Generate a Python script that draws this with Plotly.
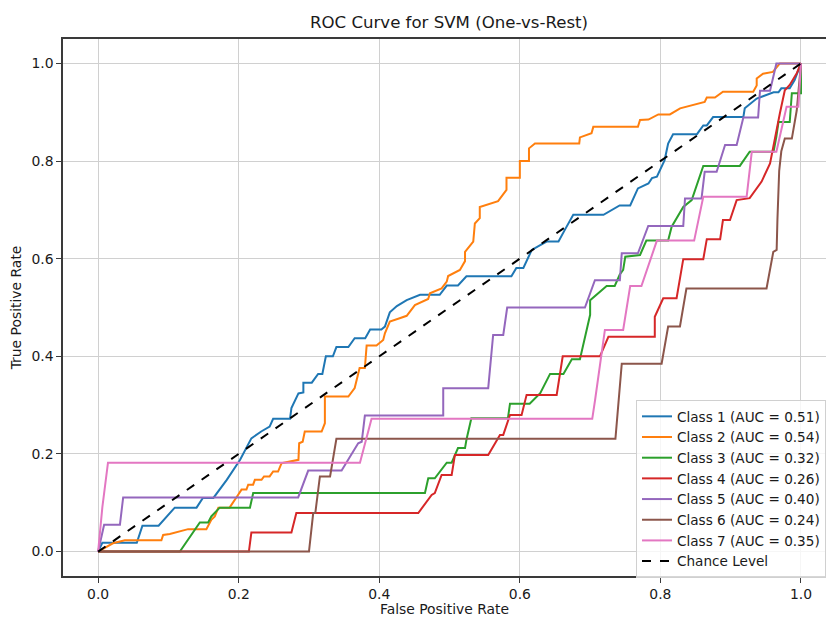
import plotly.graph_objects as go

# ROC curves of a one-vs-rest SVM, one (FPR, TPR) series per class
class_names = ["Class 1", "Class 2", "Class 3", "Class 4", "Class 5", "Class 6", "Class 7"]
auc_values = [0.51, 0.54, 0.32, 0.26, 0.40, 0.24, 0.35]
colors = ["#1f77b4", "#ff7f0e", "#2ca02c", "#d62728", "#9467bd", "#8c564b", "#e377c2"]

fpr_1 = [0, 0.006, 0.055, 0.063, 0.086, 0.109, 0.14, 0.149, 0.164, 0.183, 0.202, 0.218, 0.232, 0.244,
         0.249, 0.273, 0.275, 0.285, 0.292, 0.292, 0.304, 0.313, 0.319, 0.324, 0.334, 0.339, 0.356, 0.365,
         0.38, 0.387, 0.403, 0.408, 0.415, 0.425, 0.439, 0.458, 0.486, 0.496, 0.512, 0.524, 0.588, 0.595,
         0.605, 0.617, 0.638, 0.655, 0.664, 0.676, 0.719, 0.742, 0.757, 0.768, 0.783, 0.788, 0.795, 0.806,
         0.811, 0.818, 0.852, 0.861, 0.866, 0.875, 0.918, 0.92, 0.937, 0.961, 0.968, 0.972, 0.984, 0.991, 1.0]
tpr_1 = [0, 0.018, 0.018, 0.053, 0.053, 0.09, 0.09, 0.11, 0.11, 0.147, 0.188, 0.232, 0.246, 0.256,
         0.272, 0.272, 0.294, 0.324, 0.326, 0.346, 0.346, 0.364, 0.364, 0.4, 0.4, 0.419, 0.419, 0.437,
         0.437, 0.455, 0.455, 0.461, 0.49, 0.503, 0.515, 0.526, 0.526, 0.545, 0.545, 0.564, 0.564, 0.581,
         0.581, 0.618, 0.635, 0.635, 0.659, 0.69, 0.69, 0.709, 0.709, 0.744, 0.754, 0.765, 0.768, 0.802,
         0.836, 0.855, 0.855, 0.873, 0.873, 0.89, 0.89, 0.908, 0.928, 0.941, 0.941, 0.949, 0.949, 0.966, 1.0]

fpr_2 = [0, 0.0095, 0.021, 0.038, 0.09, 0.0925, 0.102, 0.128, 0.154, 0.161, 0.166, 0.171, 0.187, 0.199,
         0.204, 0.211, 0.2135, 0.2205, 0.223, 0.2325, 0.236, 0.244, 0.249, 0.256, 0.261, 0.285, 0.286,
         0.291, 0.294, 0.318, 0.3226, 0.3226, 0.356, 0.365, 0.37, 0.372, 0.3795, 0.382, 0.396, 0.4056,
         0.408, 0.415, 0.429, 0.439, 0.4507, 0.4696, 0.472, 0.4887, 0.496, 0.498, 0.5147, 0.522, 0.522,
         0.5337, 0.536, 0.543, 0.543, 0.569, 0.581, 0.581, 0.6, 0.6, 0.613, 0.613, 0.6215, 0.6845, 0.6855,
         0.702, 0.7045, 0.768, 0.771, 0.783, 0.797, 0.8135, 0.828, 0.863, 0.866, 0.8776, 0.889, 0.932,
         0.937, 0.937, 0.946, 0.96, 0.97, 1.0]
tpr_2 = [0, 0.007, 0.017, 0.023, 0.023, 0.034, 0.036, 0.046, 0.046, 0.065, 0.072, 0.09, 0.09, 0.116,
         0.127, 0.127, 0.137, 0.137, 0.147, 0.147, 0.154, 0.154, 0.164, 0.164, 0.181, 0.188, 0.222,
         0.225, 0.246, 0.246, 0.263, 0.3175, 0.3175, 0.335, 0.365, 0.376, 0.376, 0.422, 0.422, 0.4335,
         0.447, 0.471, 0.478, 0.483, 0.505, 0.5175, 0.529, 0.539, 0.553, 0.5645, 0.577, 0.595, 0.614,
         0.635, 0.672, 0.683, 0.706, 0.718, 0.741, 0.766, 0.766, 0.8, 0.8, 0.826, 0.836, 0.836, 0.8485,
         0.857, 0.87, 0.87, 0.884, 0.885, 0.8955, 0.8955, 0.908, 0.921, 0.93, 0.93, 0.942, 0.942,
         0.955, 0.969, 0.979, 0.9825, 1.0, 1.0]

fpr_3 = [0, 0.1163, 0.1447, 0.1565, 0.161, 0.173, 0.216, 0.2206, 0.465, 0.4697, 0.479, 0.496, 0.503,
         0.512, 0.522, 0.524, 0.531, 0.583, 0.586, 0.614, 0.629, 0.643, 0.662, 0.674, 0.6855, 0.70, 0.70,
         0.709, 0.7235, 0.735, 0.742, 0.747, 0.75, 0.771, 0.780, 0.811, 0.816, 0.8325, 0.8445, 0.861,
         0.913, 0.927, 0.961, 0.965, 0.968, 0.984, 0.987, 1.0, 1.0]
tpr_3 = [0, 0, 0.0596, 0.0596, 0.072, 0.09, 0.09, 0.12, 0.12, 0.15, 0.15, 0.182, 0.182, 0.212, 0.212,
         0.229, 0.273, 0.273, 0.303, 0.303, 0.3245, 0.364, 0.364, 0.394, 0.394, 0.485, 0.515, 0.526,
         0.544, 0.544, 0.567, 0.577, 0.604, 0.6075, 0.637, 0.637, 0.6655, 0.706, 0.72, 0.79, 0.79, 0.819,
         0.819, 0.85, 0.88, 0.88, 0.939, 0.939, 1.0]

fpr_4 = [0, 0.2145, 0.218, 0.275, 0.282, 0.4555, 0.4745, 0.479, 0.4887, 0.503, 0.5076, 0.555, 0.5717,
         0.5764, 0.586, 0.6025, 0.6096, 0.6524, 0.661, 0.714, 0.726, 0.792, 0.792, 0.804, 0.823, 0.8325,
         0.861, 0.866, 0.885, 0.889, 0.899, 0.9085, 0.927, 0.944, 0.956, 0.963, 0.97, 0.977, 0.984, 0.994, 1.0]
tpr_4 = [0, 0, 0.039, 0.039, 0.079, 0.079, 0.116, 0.12, 0.157, 0.157, 0.198, 0.198, 0.239, 0.239, 0.28,
         0.28, 0.321, 0.321, 0.4, 0.4, 0.44, 0.44, 0.481, 0.519, 0.519, 0.599, 0.599, 0.64, 0.64, 0.679,
         0.679, 0.72, 0.724, 0.758, 0.795, 0.85, 0.898, 0.945, 0.956, 0.98, 1.0]

fpr_5 = [0, 0.0085, 0.031, 0.0356, 0.2846, 0.2989, 0.3464, 0.37, 0.375, 0.3795, 0.491, 0.491, 0.555,
         0.562, 0.5764, 0.582, 0.6926, 0.7068, 0.7423, 0.745, 0.768, 0.7827, 0.8325, 0.835, 0.8585,
         0.863, 0.88, 0.892, 0.9085, 0.918, 0.939, 0.9417, 0.956, 0.965, 1.0]
tpr_5 = [0, 0.055, 0.055, 0.111, 0.111, 0.166, 0.166, 0.222, 0.225, 0.2786, 0.2786, 0.3347, 0.3347,
         0.4438, 0.4438, 0.5, 0.5, 0.556, 0.556, 0.611, 0.611, 0.667, 0.667, 0.7235, 0.7235, 0.778,
         0.778, 0.833, 0.833, 0.889, 0.889, 0.944, 0.944, 1.0, 1.0]

fpr_6 = [0, 0.300, 0.306, 0.309, 0.3155, 0.33, 0.339, 0.736, 0.745, 0.8017, 0.811, 0.8278, 0.837,
         0.951, 0.9606, 0.9654, 0.9665, 0.9677, 0.969, 0.972, 0.977, 0.987, 0.994, 1.0]
tpr_6 = [0, 0, 0.079, 0.079, 0.154, 0.154, 0.231, 0.231, 0.385, 0.385, 0.461, 0.461, 0.539, 0.539,
         0.614, 0.618, 0.68, 0.72, 0.78, 0.82, 0.846, 0.846, 0.904, 1.0]

fpr_7 = [0, 0.006, 0.014, 0.3725, 0.389, 0.703, 0.707, 0.721, 0.747, 0.757, 0.773, 0.795, 0.848, 0.861,
         0.9227, 0.93, 0.965, 0.9795, 0.9963, 1.0]
tpr_7 = [0, 0.091, 0.182, 0.182, 0.272, 0.272, 0.31, 0.454, 0.454, 0.544, 0.544, 0.637, 0.637, 0.727,
         0.727, 0.819, 0.819, 0.911, 0.911, 1.0]

fpr_series = [fpr_1, fpr_2, fpr_3, fpr_4, fpr_5, fpr_6, fpr_7]
tpr_series = [tpr_1, tpr_2, tpr_3, tpr_4, tpr_5, tpr_6, tpr_7]

chance_x = [0, 1]
chance_y = [0, 1]

FONT = "DejaVu Sans"
TEXT_SIZE = 13.9
LEGEND_SIZE = 13.6
TEXT_COLOR = "#1a1a1a"

fig = go.Figure()
for name, auc, color, fx, ty in zip(class_names, auc_values, colors, fpr_series, tpr_series):
    fig.add_trace(go.Scatter(
        x=fx, y=ty, mode="lines",
        name=f"{name} (AUC = {auc:.2f})",
        line=dict(color=color, width=2),
    ))

fig.add_trace(go.Scatter(
    x=chance_x, y=chance_y, mode="lines", name="Chance Level",
    line=dict(color="black", width=2, dash="dash"),
))

tick_vals = [0.0, 0.2, 0.4, 0.6, 0.8, 1.0]

fig.update_layout(
    width=826, height=617,
    margin=dict(l=63, r=0, t=39, b=41, autoexpand=False),
    paper_bgcolor="white", plot_bgcolor="white",
    font=dict(family=FONT, size=TEXT_SIZE, color=TEXT_COLOR),
    title=dict(text="ROC Curve for SVM (One-vs-Rest)", x=449 / 826, xanchor="center",
               y=1 - 22 / 617, yanchor="middle",
               font=dict(family=FONT, size=16.6, color=TEXT_COLOR)),
    xaxis=dict(
        range=[-0.05, 1.0356], tickvals=tick_vals, tickformat=".1f",
        tickfont=dict(family=FONT, size=TEXT_SIZE, color=TEXT_COLOR),
        showgrid=True, gridcolor="#d0d0d0", gridwidth=1.2, zeroline=False,
        showline=True, linecolor="#3a3a3a", linewidth=1.5, mirror=True,
        ticks="outside", ticklen=5, tickcolor="#3a3a3a", tickwidth=1.2,
        title=dict(text="False Positive Rate", standoff=11,
                   font=dict(family=FONT, size=TEXT_SIZE, color=TEXT_COLOR)),
    ),
    yaxis=dict(
        range=[-0.05, 1.05], tickvals=tick_vals, tickformat=".1f",
        tickfont=dict(family=FONT, size=TEXT_SIZE, color=TEXT_COLOR),
        showgrid=True, gridcolor="#d0d0d0", gridwidth=1.2, zeroline=False,
        showline=True, linecolor="#3a3a3a", linewidth=1.5,
        ticks="outside", ticklen=5, tickcolor="#3a3a3a", tickwidth=1.2,
        title=dict(text="True Positive Rate", standoff=7,
                   font=dict(family=FONT, size=TEXT_SIZE, color=TEXT_COLOR)),
    ),
    legend=dict(
        x=(636 - 63) / 763, y=(576 - 400) / 537, xanchor="left", yanchor="top",
        bgcolor="rgba(255,255,255,0.8)", bordercolor="#d0d0d0", borderwidth=1,
        font=dict(family=FONT, size=LEGEND_SIZE, color=TEXT_COLOR),
        itemwidth=30, tracegroupgap=0,
    ),
    showlegend=True,
)

fig.write_html("out.html")
